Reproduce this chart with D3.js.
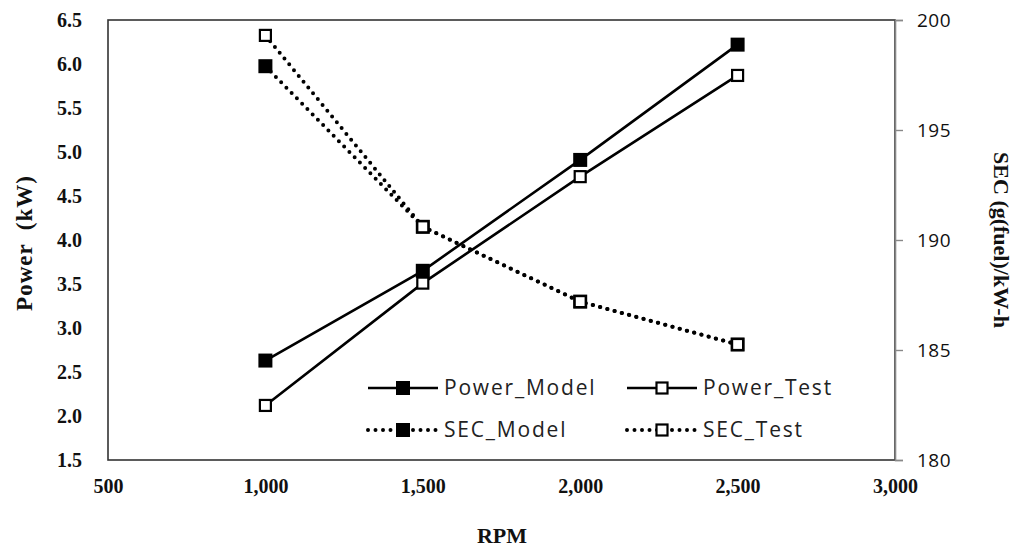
<!DOCTYPE html>
<html><head><meta charset="utf-8">
<script src="https://cdn.jsdelivr.net/npm/d3@7"></script>
<style>body{margin:0;background:#fff}svg{display:block}</style>
</head><body>
<svg id="c" width="1015" height="547"></svg>
<script>
const rpm = [1000, 1500, 2000, 2500];
const powerModel = [2.63, 3.65, 4.91, 6.22];
const powerTest  = [2.12, 3.51, 4.72, 5.87];
const secModel   = [197.9, 190.6, 187.2, 185.25];
const secTest    = [199.3, 190.6, 187.2, 185.25];
const xTicks = [500, 1000, 1500, 2000, 2500, 3000];
const yLeftTicks = [1.5, 2.0, 2.5, 3.0, 3.5, 4.0, 4.5, 5.0, 5.5, 6.0, 6.5];
const yRightTicks = [180, 185, 190, 195, 200];
const legendLabels = ["Power_Model", "Power_Test", "SEC_Model", "SEC_Test"];

const svg = d3.select("#c");
const L = 108, R = 895, T = 20, B = 460;
const x = d3.scaleLinear().domain([500, 3000]).range([L, R]);
const yL = d3.scaleLinear().domain([1.5, 6.5]).range([B, T]);
const yR = d3.scaleLinear().domain([180, 200]).range([B, T]);
const serif = "'Liberation Serif','Times New Roman',serif";
const sans = "'Open Sans','Noto Sans',sans-serif";

// frame
svg.append("rect").attr("x", L).attr("y", T).attr("width", R - L).attr("height", B - T)
  .attr("fill", "none").attr("stroke", "#333").attr("stroke-width", 1.6);

// x axis labels
const gx = svg.append("g").attr("transform", `translate(0,${B})`)
  .call(d3.axisBottom(x).tickValues(xTicks).tickFormat(d3.format(",")).tickSize(0).tickPadding(19));
gx.select(".domain").remove();
gx.selectAll("text").attr("font-family", serif).attr("font-weight", "bold").attr("font-size", 20).attr("fill", "#111");

// left axis labels
const gl = svg.append("g").attr("transform", `translate(${L},0)`)
  .call(d3.axisLeft(yL).tickValues(yLeftTicks).tickFormat(d3.format(".1f")).tickSize(0).tickPadding(26));
gl.select(".domain").remove();
gl.selectAll("text").attr("font-family", serif).attr("font-weight", "bold").attr("font-size", 20).attr("fill", "#111");

// right axis
const gr = svg.append("g").attr("transform", `translate(${R},0)`)
  .call(d3.axisRight(yR).tickValues(yRightTicks).tickSize(8).tickPadding(14));
gr.select(".domain").attr("stroke", "#888").attr("stroke-width", 1.6);
gr.selectAll(".tick line").attr("stroke", "#888").attr("stroke-width", 1.4);
gr.selectAll("text").attr("font-family", sans).attr("font-size", 19).attr("letter-spacing", 0.5).attr("fill", "#111");

// titles
svg.append("text").attr("x", 502).attr("y", 543).attr("text-anchor", "middle")
  .attr("font-family", serif).attr("font-weight", "bold").attr("font-size", 22).attr("fill", "#111").text("RPM");
svg.append("text").attr("transform", "translate(32,243) rotate(-90)").attr("text-anchor", "middle")
  .attr("font-family", serif).attr("font-weight", "bold").attr("font-size", 23).attr("letter-spacing", 1)
  .attr("fill", "#111").attr("xml:space", "preserve").text("Power  (kW)");
svg.append("text").attr("transform", "translate(994,240) rotate(90)").attr("text-anchor", "middle")
  .attr("font-family", serif).attr("font-weight", "bold").attr("font-size", 22).attr("fill", "#111").text("SEC (g(fuel)/kW-h");

// series
const series = [
  {name: legendLabels[0], vals: powerModel, y: yL, dotted: false, filled: true},
  {name: legendLabels[1], vals: powerTest,  y: yL, dotted: false, filled: false},
  {name: legendLabels[2], vals: secModel,   y: yR, dotted: true,  filled: true},
  {name: legendLabels[3], vals: secTest,    y: yR, dotted: true,  filled: false},
];

function styleLine(sel, dotted) {
  if (dotted) sel.attr("stroke-width", 4).attr("stroke-linecap", "round").attr("stroke-dasharray", "0 7.5");
  else sel.attr("stroke-width", 2.6);
  return sel;
}
function marker(g, cx, cy, filled) {
  if (filled) g.append("rect").attr("x", cx - 7).attr("y", cy - 7).attr("width", 14).attr("height", 14).attr("fill", "#000");
  else g.append("rect").attr("x", cx - 5.5).attr("y", cy - 5.5).attr("width", 11).attr("height", 11)
        .attr("fill", "#fff").attr("stroke", "#000").attr("stroke-width", 2.2);
}

series.forEach(s => {
  const line = d3.line().x((d, i) => x(rpm[i])).y(d => s.y(d));
  styleLine(svg.append("path").datum(s.vals).attr("d", line).attr("fill", "none").attr("stroke", "#000"), s.dotted);
});
series.forEach(s => {
  const g = svg.append("g");
  s.vals.forEach((v, i) => marker(g, x(rpm[i]), s.y(v), s.filled));
});

// legend
const legPos = [[368, 388], [627, 388], [368, 430], [627, 430]];
series.forEach((s, i) => {
  const [lx, ly] = legPos[i];
  const g = svg.append("g");
  styleLine(g.append("line").attr("x1", lx).attr("x2", lx + 70).attr("y1", ly).attr("y2", ly).attr("stroke", "#000"), s.dotted);
  marker(g, lx + 35, ly, s.filled);
  g.append("text").attr("x", lx + 76).attr("y", ly).attr("dy", "0.35em")
    .attr("font-family", sans).attr("font-size", 21).attr("letter-spacing", 1.8).attr("fill", "#222").text(s.name);
});
</script>
</body></html>
